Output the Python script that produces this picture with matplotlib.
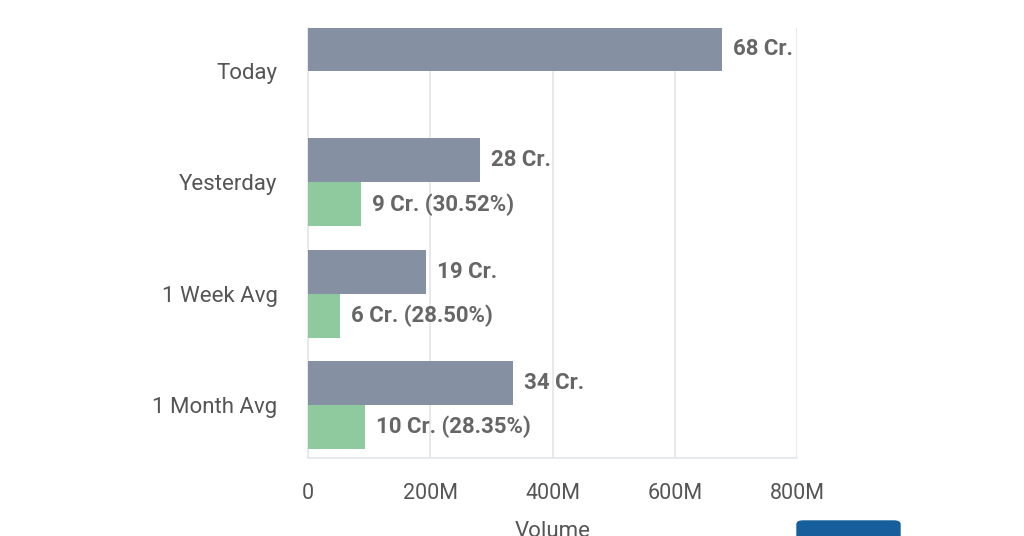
import matplotlib
matplotlib.use("Agg")
import matplotlib.pyplot as plt
from matplotlib.patches import FancyBboxPatch
import numpy as np

categories = ["Today", "Yesterday", "1 Week Avg", "1 Month Avg"]
volume_m = [677, 281, 193, 335]
delivery_m = [None, 86, 53, 93]
volume_labels = ["68 Cr.", "28 Cr.", "19 Cr.", "34 Cr."]
delivery_labels = [None, "9 Cr. (30.52%)", "6 Cr. (28.50%)", "10 Cr. (28.35%)"]
xticks = [0, 200, 400, 600, 800]
xtick_labels = ["0", "200M", "400M", "600M", "800M"]

plt.rcParams['font.family'] = ['Roboto', 'DejaVu Sans']

fig = plt.figure(figsize=(10.24, 5.36), dpi=100)
ax_top_px, ax_bot_px = 28, 458
ax = fig.add_axes([308 / 1024, 1 - ax_bot_px / 536, 489 / 1024, (ax_bot_px - ax_top_px) / 536])

gray = "#8690A3"
green = "#8FC99E"
lblc = "#666666"
y = np.arange(len(categories))
h = 0.395
ax.barh(y - h / 2, volume_m, height=h, color=gray, zorder=3)
for i, (v, t) in enumerate(zip(volume_m, volume_labels)):
    ax.text(v + 18, y[i] - h / 2, t, va="center", ha="left", fontsize=16,
            fontweight="bold", color=lblc, zorder=4)
for i, (v, t) in enumerate(zip(delivery_m, delivery_labels)):
    if v is None:
        continue
    ax.barh(y[i] + h / 2, v, height=h, color=green, zorder=3)
    ax.text(v + 18, y[i] + h / 2, t, va="center", ha="left", fontsize=16,
            fontweight="bold", color=lblc, zorder=4)

ax.set_xlim(0, 800)
band_px = 111.3
ax.set_ylim(3 + 53 / band_px, -43 / band_px)
ax.set_yticks(y)
ax.set_yticklabels(categories, fontsize=16, color="#555555")
ax.set_xticks(xticks)
ax.set_xticklabels(xtick_labels, fontsize=15.5, color="#555555")
ax.tick_params(axis="y", length=0, pad=22)
ax.tick_params(axis="x", length=0, pad=18)
ax.grid(axis="x", color="#E3E6EA", linewidth=1.2, zorder=0)
for s in ["top", "right"]:
    ax.spines[s].set_visible(False)
ax.spines["left"].set_color("#E3E6EA")
ax.spines["bottom"].set_color("#E3E6EA")
ax.spines["left"].set_linewidth(1.2)
ax.spines["bottom"].set_linewidth(1.2)
ax.set_xlabel("Volume", fontsize=16, color="#555555", labelpad=12)

rect = FancyBboxPatch((797 / 1024, -0.02), 103 / 1024, 0.048,
                      boxstyle="round,pad=0,rounding_size=0.006",
                      transform=fig.transFigure, color="#175F9C", zorder=10)
fig.patches.append(rect)

fig.savefig("out.png", dpi=100)
